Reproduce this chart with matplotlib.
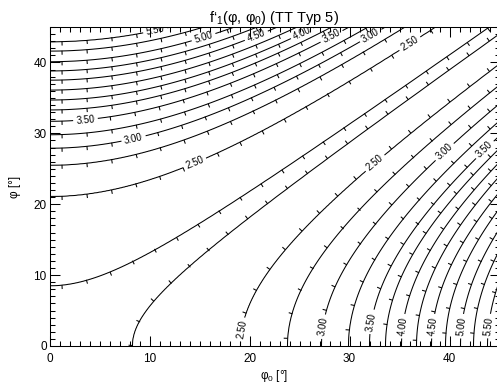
import numpy as np
import matplotlib
matplotlib.use("Agg")
import matplotlib.pyplot as plt
from matplotlib.collections import LineCollection
from matplotlib.ticker import MultipleLocator

plt.rcParams["font.family"] = ["Liberation Sans", "DejaVu Sans"]
plt.rcParams["mathtext.fontset"] = "custom"
plt.rcParams["mathtext.rm"] = "Liberation Sans"
plt.rcParams["mathtext.default"] = "regular"

# contour levels and where each one meets the two axes
levels = [2.25, 2.5, 2.75, 3.0, 3.25, 3.5, 3.75, 4.0, 4.25, 4.5, 4.75, 5.0, 5.25, 5.5]
phi_on_left = [8.5, 21.1, 25.5, 27.9, 29.8, 31.7, 33.3, 34.7, 36.1, 37.5, 38.8, 40.1, 41.6, 42.9]
phi0_on_bottom = [8.3, 19.1, 23.8, 27.2, 29.9, 32.0, 33.6, 35.2, 36.7, 38.2, 39.6, 41.1, 42.4, 43.8]
f_origin = 2.15
f_far = 5.7
phi_max = 45.0
bend = 0.75  # curvature of the iso-lines, fitted to the label spots

# label spots (phi0, phi)
label_spots = [
    (14.6, 25.5), (36.2, 42.3), (8.4, 29.3), (32.2, 43.6), (3.6, 31.9),
    (28.2, 43.7), (25.2, 44.3), (20.7, 43.7), (15.4, 43.6), (10.6, 44.4),
    (32.5, 25.9), (39.5, 27.4), (43.3, 28.0),
    (19.3, 2.3), (27.5, 2.7), (32.3, 3.4), (35.3, 2.8), (38.3, 2.8),
    (41.2, 2.8), (44.0, 2.8),
]


def field(phi0, phi):
    # iso-lines: sin^2(b*phi) - sin^2(b*phi0) = const; profile from axis crossings
    w = lambda a: np.sin(np.radians(bend * np.asarray(a))) ** 2
    v = w(phi) - w(phi0)
    u = np.degrees(np.arcsin(np.sqrt(np.abs(v)))) / bend
    upper = np.interp(u, [0] + phi_on_left + [phi_max], [f_origin] + levels + [f_far])
    lower = np.interp(u, [0] + phi0_on_bottom + [phi_max], [f_origin] + levels + [f_far])
    return np.where(v >= 0, upper, lower)


grid = np.linspace(0, phi_max, 451)
P0, P = np.meshgrid(grid, grid)
Z = field(P0, P)

W, H = 497, 384
fig = plt.figure(figsize=(W / 100, H / 100), dpi=100)
ax = fig.add_axes([49.5 / W, 38 / H, 450 / W, 319 / H])
ax.set_xlim(0, phi_max)
ax.set_ylim(0, phi_max)

# labelled levels (every 0.5) and plain ones in between
cs_lab = ax.contour(P0, P, Z, levels=levels[1::2], colors="black", linewidths=0.75)
cs_plain = ax.contour(P0, P, Z, levels=levels[0::2], colors="black", linewidths=0.75)
ax.clabel(cs_lab, manual=label_spots, inline=True, fmt="%.2f",
          fontsize=7, inline_spacing=3)

# downhill ticks along the contour lines
tick_step, tick_len = 25.0, 4.0
to_px = ax.transData
to_data = ax.transData.inverted()
ticks = []
for cs in (cs_lab, cs_plain):
    for path in cs.get_paths():
        for verts in path.to_polygons(closed_only=False):
            if len(verts) < 2:
                continue
            px = to_px.transform(verts)
            d = np.diff(px, axis=0)
            seg = np.hypot(d[:, 0], d[:, 1])
            s = np.concatenate([[0], np.cumsum(seg)])
            for st in np.arange(tick_step / 2, s[-1], tick_step):
                i = min(max(np.searchsorted(s, st) - 1, 0), len(seg) - 1)
                if seg[i] == 0:
                    continue
                t = d[i] / seg[i]
                p = px[i] + (st - s[i]) * t
                n = np.array([-t[1], t[0]])
                a, b = to_data.transform([p + 2 * n, p - 2 * n])
                if field(*a) > field(*b):
                    n = -n
                ticks.append(to_data.transform([p, p + tick_len * n]))
ax.add_collection(LineCollection(ticks, colors="black", linewidths=0.75))

ax.xaxis.set_major_locator(MultipleLocator(10))
ax.yaxis.set_major_locator(MultipleLocator(10))
ax.xaxis.set_minor_locator(MultipleLocator(1))
ax.yaxis.set_minor_locator(MultipleLocator(1))
ax.tick_params(which="both", direction="in", top=True, right=True, width=0.75,
               labelsize=8.5)
ax.tick_params(which="major", length=7)
ax.tick_params(which="minor", length=3.5)
ax.tick_params(axis="x", pad=5)
ax.tick_params(axis="y", pad=2)
for sp in ax.spines.values():
    sp.set_linewidth(0.75)

ax.set_xlabel("φ$_0$ [°]", fontsize=8.5, labelpad=2)
ax.set_ylabel("φ [°]", fontsize=8.5, labelpad=9)
ax.set_title("f‘$_1$(φ, φ$_0$) (TT Typ 5)", fontsize=10.5, pad=3)

fig.savefig("out.png", dpi=100)
